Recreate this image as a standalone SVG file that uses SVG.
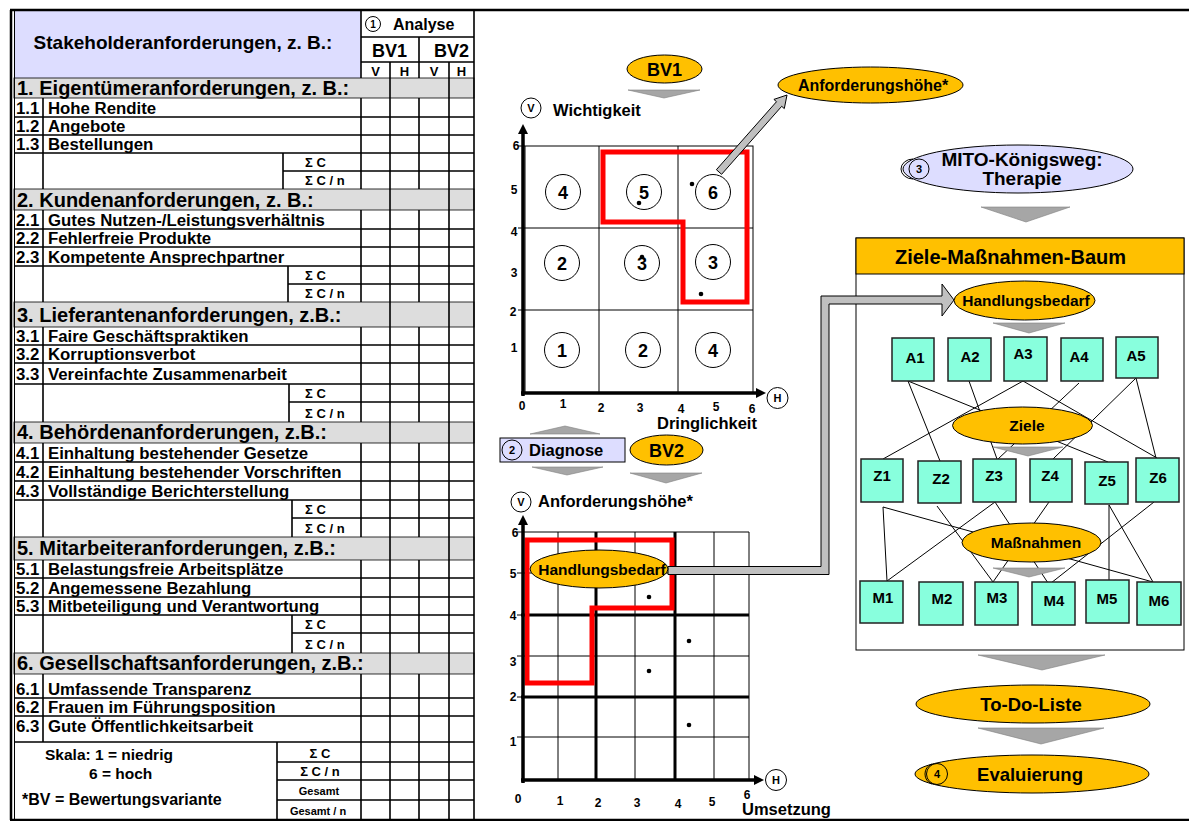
<svg xmlns="http://www.w3.org/2000/svg" width="1189" height="821" viewBox="0 0 1189 821">
<style>
text{font-family:"Liberation Sans",Arial,Helvetica,sans-serif;font-weight:bold;fill:#000}
.h{font-size:20px}
.i{font-size:16.8px}
.s{font-size:13px}
.g{font-size:11px}
.ax-n{font-size:12px;text-anchor:middle}
.c{text-anchor:middle}
.ln{stroke:#000;stroke-width:1;fill:none}
.lt{stroke:#000;stroke-width:1.6;fill:none}
.gray{fill:#DDDDDD;stroke:#000;stroke-width:0.8}
.lav{fill:#DDDDFF;stroke:#000;stroke-width:1}
.yel{fill:#FFC000;stroke:#000;stroke-width:1}
.chev{fill:#A6A6A6;stroke:#7F7F7F;stroke-width:0.6}
.bx{fill:#88FFDD;stroke:#222;stroke-width:1.5}
.red{fill:none;stroke:#FF0000;stroke-width:5}
.ax{stroke:#000;stroke-width:3.5;fill:none}
.cir{fill:#fff;stroke:#000;stroke-width:1}
.tl{stroke:#000;stroke-width:1;fill:none}
.arrowband{fill:#C0C0C0;stroke:#000;stroke-width:1}
</style>
<defs>
<marker id="axh" viewBox="0 0 10 10" refX="3" refY="5" markerWidth="15" markerHeight="10" markerUnits="userSpaceOnUse" orient="auto">
<path d="M0,0 L10,5 L0,10 z" fill="#000"/>
</marker>
</defs>
<rect width="1189" height="821" fill="#fff"/>

<!-- ===== TABLE ===== -->
<g id="table">
<rect x="14" y="11" width="347" height="67" fill="#DDDDFF"/>
<text x="183" y="49" class="c" font-size="19">Stakeholderanforderungen, z. B.:</text>
<circle cx="373" cy="24" r="7.5" class="cir"/>
<text x="373" y="27.5" class="c" font-size="10">1</text>
<text x="393" y="30" font-size="16">Analyse</text>
<text x="389.5" y="57" class="c" font-size="18">BV1</text>
<text x="451.5" y="57" class="c" font-size="18">BV2</text>
<text x="375.5" y="75.5" class="c" font-size="13">V</text>
<text x="404.5" y="75.5" class="c" font-size="13">H</text>
<text x="434" y="75.5" class="c" font-size="13">V</text>
<text x="461.5" y="75.5" class="c" font-size="13">H</text>
<path class="lt" d="M361 37H474M361 62H474M361 11V78M419 37V78"/>

<!-- gray heading rows -->
<rect x="14" y="78" width="460" height="20" class="gray"/>
<rect x="14" y="189" width="460" height="21" class="gray"/>
<rect x="14" y="302" width="460" height="25" class="gray"/>
<rect x="14" y="422" width="460" height="21" class="gray"/>
<rect x="14" y="537" width="460" height="23" class="gray"/>
<rect x="14" y="653" width="460" height="21" class="gray"/>

<text x="17" y="95" class="h">1. Eigentümeranforderungen, z. B.:</text>
<text x="17" y="207" class="h">2. Kundenanforderungen, z. B.:</text>
<text x="17" y="322" class="h">3. Lieferantenanforderungen, z.B.:</text>
<text x="17" y="439" class="h">4. Behördenanforderungen, z.B.:</text>
<text x="17" y="555" class="h">5. Mitarbeiteranforderungen, z.B.:</text>
<text x="17" y="670" class="h">6. Gesellschaftsanforderungen, z.B.:</text>

<!-- row lines -->
<path class="lt" d="
M14 117H474M14 135H474M14 153H474M283 171H474
M14 229H474M14 247H474M14 266H474M288 284H474
M14 345H474M14 363H474M14 384H474M289 402H474
M14 462H474M14 481H474M14 500H474M292 518H474
M14 578H474M14 597H474M14 615H474M292 633H474
M14 698H474M14 716H474M14 742H474M277 762H474M277 780H474M277 800H474"/>
<!-- vertical lines -->
<path class="lt" d="
M43 98V189M283 153V189M361 98V189M419 98V189
M43 210V302M288 266V302M361 210V302M419 210V302
M43 327V422M289 384V422M361 327V422M419 327V422
M43 443V537M292 500V537M361 443V537M419 443V537
M43 560V653M292 615V653M361 560V653M419 560V653
M43 674V742M277 742V819M361 674V819M419 674V819
M390 62V819M449 62V819M474 11V819"/>

<!-- items -->
<g class="i">
<text x="16" y="114">1.1</text><text x="48" y="114">Hohe Rendite</text>
<text x="16" y="132">1.2</text><text x="48" y="132">Angebote</text>
<text x="16" y="150">1.3</text><text x="48" y="150">Bestellungen</text>
<text x="16" y="226">2.1</text><text x="48" y="226">Gutes Nutzen-/Leistungsverhältnis</text>
<text x="16" y="244">2.2</text><text x="48" y="244">Fehlerfreie Produkte</text>
<text x="16" y="263">2.3</text><text x="48" y="263">Kompetente Ansprechpartner</text>
<text x="16" y="342">3.1</text><text x="48" y="342">Faire Geschäftspraktiken</text>
<text x="16" y="360">3.2</text><text x="48" y="360">Korruptionsverbot</text>
<text x="16" y="380">3.3</text><text x="48" y="380">Vereinfachte Zusammenarbeit</text>
<text x="16" y="459">4.1</text><text x="48" y="459">Einhaltung bestehender Gesetze</text>
<text x="16" y="478">4.2</text><text x="48" y="478">Einhaltung bestehender Vorschriften</text>
<text x="16" y="497">4.3</text><text x="48" y="497">Vollständige Berichterstellung</text>
<text x="16" y="575">5.1</text><text x="48" y="575">Belastungsfreie Arbeitsplätze</text>
<text x="16" y="594">5.2</text><text x="48" y="594">Angemessene Bezahlung</text>
<text x="16" y="612">5.3</text><text x="48" y="612">Mitbeteiligung und Verantwortung</text>
<text x="16" y="695">6.1</text><text x="48" y="695">Umfassende Transparenz</text>
<text x="16" y="713">6.2</text><text x="48" y="713">Frauen im Führungsposition</text>
<text x="16" y="732">6.3</text><text x="48" y="732">Gute Öffentlichkeitsarbeit</text>
</g>

<!-- sums -->
<g class="s">
<text x="305" y="167">Σ C</text><text x="305" y="185">Σ C / n</text>
<text x="305" y="280">Σ C</text><text x="305" y="298">Σ C / n</text>
<text x="305" y="398">Σ C</text><text x="305" y="418">Σ C / n</text>
<text x="305" y="514">Σ C</text><text x="305" y="533">Σ C / n</text>
<text x="305" y="629">Σ C</text><text x="305" y="649">Σ C / n</text>
<text x="320" y="758" class="c">Σ C</text>
<text x="320" y="776" class="c">Σ C / n</text>
</g>
<text x="319" y="795" class="c g">Gesamt</text>
<text x="318" y="815" class="c g">Gesamt  / n</text>
<text x="45" y="760" font-size="15.5">Skala: 1 = niedrig</text>
<text x="89" y="779" font-size="15.5">6 = hoch</text>
<text x="22" y="805" font-size="16">*BV = Bewertungsvariante</text>
</g>

<!-- frame -->
<g id="frame">
<path d="M10 10H1189M10 820H1189" stroke="#000" stroke-width="2.5"/>
<path d="M11 10V820" stroke="#000" stroke-width="2.5"/>
<path d="M14.5 10V820" stroke="#000" stroke-width="1"/>
</g>

<!-- ===== CHART 1 (BV1) ===== -->
<g id="chart-bv1">
<rect x="525" y="146" width="228" height="247" fill="#fff" class="tl"/>
<path class="tl" d="M599 146V393M678 146V393M525 228H753M525 310H753M518 146H525M518 228H525M518 310H525"/>
<path class="red" d="M603 222V152H747V302H683V222Z"/>
<g>
<circle cx="563" cy="192" r="17.5" class="cir"/><text x="563" y="198.5" class="c" font-size="18">4</text>
<circle cx="644" cy="192" r="17.5" class="cir"/><text x="644" y="198.5" class="c" font-size="18">5</text>
<circle cx="713" cy="192" r="17.5" class="cir"/><text x="713" y="198.5" class="c" font-size="18">6</text>
<circle cx="562" cy="263" r="17.5" class="cir"/><text x="562" y="269.5" class="c" font-size="18">2</text>
<circle cx="642" cy="263" r="17.5" class="cir"/><text x="642" y="269.5" class="c" font-size="18">3</text>
<circle cx="713" cy="262" r="17.5" class="cir"/><text x="713" y="268.5" class="c" font-size="18">3</text>
<circle cx="562" cy="350" r="17.5" class="cir"/><text x="562" y="356.5" class="c" font-size="18">1</text>
<circle cx="643" cy="350" r="17.5" class="cir"/><text x="643" y="356.5" class="c" font-size="18">2</text>
<circle cx="713" cy="350" r="17.5" class="cir"/><text x="713" y="356.5" class="c" font-size="18">4</text>
</g>
<circle cx="639" cy="203" r="2.3"/><circle cx="692" cy="184" r="2.3"/><circle cx="642" cy="257" r="2.3"/><circle cx="701" cy="294" r="2.3"/>
<line x1="523" y1="396" x2="523" y2="131" class="ax" marker-end="url(#axh)"/>
<line x1="521" y1="393" x2="759" y2="393" class="ax" marker-end="url(#axh)"/>
<circle cx="531" cy="108" r="10" class="cir"/><text x="531" y="112" class="c" font-size="11">V</text>
<text x="553" y="116" font-size="16.5">Wichtigkeit</text>
<circle cx="777.5" cy="398" r="10.5" class="cir"/><text x="777.5" y="402" class="c" font-size="11">H</text>
<text x="657" y="429" font-size="16.5">Dringlichkeit</text>
<g class="ax-n">
<text x="516" y="150">6</text><text x="514" y="194">5</text><text x="514" y="236">4</text><text x="514" y="277">3</text><text x="513" y="316">2</text><text x="514" y="352">1</text>
<text x="522" y="410">0</text><text x="563" y="408">1</text><text x="601" y="412">2</text><text x="640" y="412">3</text><text x="681" y="413">4</text><text x="716" y="411">5</text><text x="752" y="413">6</text>
</g>
</g>

<!-- BV1 / Anforderungshöhe -->
<g id="n-bv1">
<ellipse cx="664.5" cy="69" rx="37.5" ry="14" class="yel"/>
<text x="664.5" y="76" class="c" font-size="18">BV1</text>
</g>
<g id="n-anf">
<ellipse cx="870.5" cy="85" rx="92.5" ry="18" class="yel"/>
<text x="873" y="90.5" class="c" font-size="16">Anforderungshöhe*</text>
</g>

<!-- Diagnose / BV2 -->
<g id="n-diagnose">
<rect x="500" y="438" width="125" height="24" class="lav"/>
<circle cx="512" cy="450" r="10" style="fill:#DDDDFF;stroke:#000;stroke-width:1"/>
<text x="512" y="454" class="c" font-size="11">2</text>
<text x="529" y="456" font-size="16.5">Diagnose</text>
</g>
<g id="n-bv2">
<ellipse cx="666.5" cy="450" rx="36.5" ry="15" class="yel"/>
<text x="666.5" y="457" class="c" font-size="18">BV2</text>
</g>

<!-- ===== CHART 2 (BV2) ===== -->
<g id="chart-bv2">
<path class="tl" d="M558 532V780M635 532V780M714 532V780M749 532V780M523 532H749M523 573H749M523 656H749M523 737H749
M517 532H523M517 573H523M517 615H523M517 656H523M517 697H523M517 737H523"/>
<path d="M596 532V780M675 532V780M521 615H749M521 697H749" stroke="#000" stroke-width="3" fill="none"/>
<path class="red" d="M527 540H672V608H592V683H527Z"/>
<circle cx="649" cy="597" r="2.3"/><circle cx="689" cy="641" r="2.3"/><circle cx="649" cy="671" r="2.3"/><circle cx="689" cy="725" r="2.3"/>
<line x1="523" y1="783" x2="523" y2="522" class="ax" marker-end="url(#axh)"/>
<line x1="521" y1="780" x2="757" y2="780" class="ax" marker-end="url(#axh)"/>
<circle cx="521" cy="502" r="10" class="cir"/><text x="521" y="506" class="c" font-size="11">V</text>
<text x="538" y="507" font-size="16.5">Anforderungshöhe*</text>
<circle cx="776" cy="780" r="10.5" class="cir"/><text x="776" y="784" class="c" font-size="11">H</text>
<g class="ax-n">
<text x="515" y="537">6</text><text x="513" y="578">5</text><text x="513" y="620">4</text><text x="513" y="666">3</text><text x="513" y="701">2</text><text x="513" y="746">1</text>
<text x="518" y="803">0</text><text x="560" y="805">1</text><text x="598" y="807">2</text><text x="637" y="807">3</text><text x="678" y="808">4</text><text x="712" y="806">5</text><text x="747" y="799">6</text>
</g>
<text x="742" y="815" font-size="16.5">Umsetzung</text>
</g>

<!-- ===== RIGHT: Ziele-Maßnahmen-Baum ===== -->
<g id="n-mito">
<ellipse cx="1018" cy="169" rx="115" ry="24" class="lav"/>
<path d="M913 159 A 12 10 0 0 0 913 179" class="tl"/>
<circle cx="919" cy="169" r="10" class="tl"/>
<text x="919" y="173" class="c" font-size="11">3</text>
<text x="1022" y="166" class="c" font-size="19">MITO-Königsweg:</text>
<text x="1022" y="185" class="c" font-size="19">Therapie</text>
</g>

<g id="n-baum">
<rect x="856" y="238" width="328" height="412" fill="#fff" stroke="#000" stroke-width="1"/>
<rect x="856" y="238" width="328" height="36" class="yel"/>
<text x="1010.5" y="264" class="c" font-size="20">Ziele-Maßnahmen-Baum</text>
</g>

<!-- connectors -->
<g id="connectors">
<polygon class="arrowband" points="721.6,174.3 781.7,106.3 784.3,108.6 787,95 773.9,99.4 776.5,101.7 716.4,169.7"/>
<polygon class="arrowband" points="668,566.5 821,566.5 821,296 942,296 942,284 954,300 942,316 942,304 829,304 829,574.5 668,574.5"/>
<path class="tl" d="
M908 381L940 461M908 381L1108 462M969 381L997 459M1023 381L883 459M1023 381L1157 458M1079 383L998 459M1136 378L1053 459M1136 378L1156 458
M883 507L887 581M883 507L1153 582M937 506L993 582M995 502L887 581M995 502L1048 583M1049 502L993 582M1109 505L1109 580M1109 505L1153 582M1154 502L1051 583"/>
<polygon class="chev" points="628,90 700,90 664,98"/>
<polygon class="chev" points="530,434 600,434 565,426"/>
<polygon class="chev" points="532,467 603,467 567,475"/>
<polygon class="chev" points="630,473 702,473 666,483"/>
<polygon class="chev" points="981,207 1070,207 1026,222"/>
<polygon class="chev" points="993,323 1065,323 1029,333"/>
<polygon class="chev" points="978,655 1105,655 1042,670"/>
<polygon class="chev" points="978,728 1104,728 1041,744"/>
</g>

<g id="n-handl2">
<ellipse cx="599" cy="569" rx="69" ry="19" class="yel"/>
<text x="602" y="575" class="c" font-size="15.5">Handlungsbedarf</text>
</g>
<g id="n-handl">
<ellipse cx="1024.5" cy="300.5" rx="70.5" ry="19.5" class="yel"/>
<text x="1026" y="306" class="c" font-size="15.5">Handlungsbedarf</text>
</g>
<g id="n-ziele">
<ellipse cx="1022.5" cy="425.5" rx="70" ry="18.5" class="yel"/>
<text x="1027" y="431" class="c" font-size="15.5">Ziele</text>
</g>
<polygon class="chev" points="993,447 1063,447 1028,456"/>
<g id="n-massnahmen">
<ellipse cx="1031.5" cy="542.5" rx="69.5" ry="19.5" class="yel"/>
<text x="1036" y="548" class="c" font-size="15.5">Maßnahmen</text>
</g>
<polygon class="chev" points="993,568 1065,568 1029,577"/>

<g id="n-A1"><rect x="892" y="338" width="42" height="43" class="bx"/><text x="915" y="363" class="c" font-size="15">A1</text></g>
<g id="n-A2"><rect x="948" y="338" width="43" height="43" class="bx"/><text x="970" y="362" class="c" font-size="15">A2</text></g>
<g id="n-A3"><rect x="1004" y="337" width="43" height="44" class="bx"/><text x="1023" y="359" class="c" font-size="15">A3</text></g>
<g id="n-A4"><rect x="1061" y="338" width="42" height="43" class="bx"/><text x="1079" y="362" class="c" font-size="15">A4</text></g>
<g id="n-A5"><rect x="1116" y="337" width="42" height="41" class="bx"/><text x="1136" y="361" class="c" font-size="15">A5</text></g>

<g id="n-Z1"><rect x="861" y="459" width="42" height="43" class="bx"/><text x="882" y="481" class="c" font-size="15">Z1</text></g>
<g id="n-Z2"><rect x="918" y="461" width="43" height="42" class="bx"/><text x="941" y="484" class="c" font-size="15">Z2</text></g>
<g id="n-Z3"><rect x="973" y="459" width="43" height="43" class="bx"/><text x="994" y="481" class="c" font-size="15">Z3</text></g>
<g id="n-Z4"><rect x="1030" y="459" width="42" height="43" class="bx"/><text x="1050" y="481" class="c" font-size="15">Z4</text></g>
<g id="n-Z5"><rect x="1085" y="462" width="43" height="42" class="bx"/><text x="1107" y="486" class="c" font-size="15">Z5</text></g>
<g id="n-Z6"><rect x="1136" y="458" width="43" height="44" class="bx"/><text x="1158" y="483" class="c" font-size="15">Z6</text></g>

<g id="n-M1"><rect x="860" y="581" width="43" height="42" class="bx"/><text x="883" y="603" class="c" font-size="15">M1</text></g>
<g id="n-M2"><rect x="919" y="582" width="44" height="43" class="bx"/><text x="942" y="604" class="c" font-size="15">M2</text></g>
<g id="n-M3"><rect x="975" y="582" width="43" height="43" class="bx"/><text x="997" y="603" class="c" font-size="15">M3</text></g>
<g id="n-M4"><rect x="1032" y="582" width="43" height="43" class="bx"/><text x="1054" y="606" class="c" font-size="15">M4</text></g>
<g id="n-M5"><rect x="1086" y="580" width="43" height="43" class="bx"/><text x="1107" y="604" class="c" font-size="15">M5</text></g>
<g id="n-M6"><rect x="1137" y="582" width="44" height="43" class="bx"/><text x="1159" y="606" class="c" font-size="15">M6</text></g>

<g id="n-todo">
<ellipse cx="1033" cy="704" rx="117" ry="19" class="yel"/>
<text x="1031" y="711" class="c" font-size="18.5">To-Do-Liste</text>
</g>
<g id="n-eval">
<ellipse cx="1032" cy="774" rx="117" ry="19" class="yel"/>
<path d="M932 764 A 12 11 0 0 0 932 784" class="tl"/>
<circle cx="937" cy="774" r="10.5" class="tl"/>
<text x="937" y="778" class="c" font-size="11">4</text>
<text x="1030" y="781" class="c" font-size="18.5">Evaluierung</text>
</g>
</svg>
